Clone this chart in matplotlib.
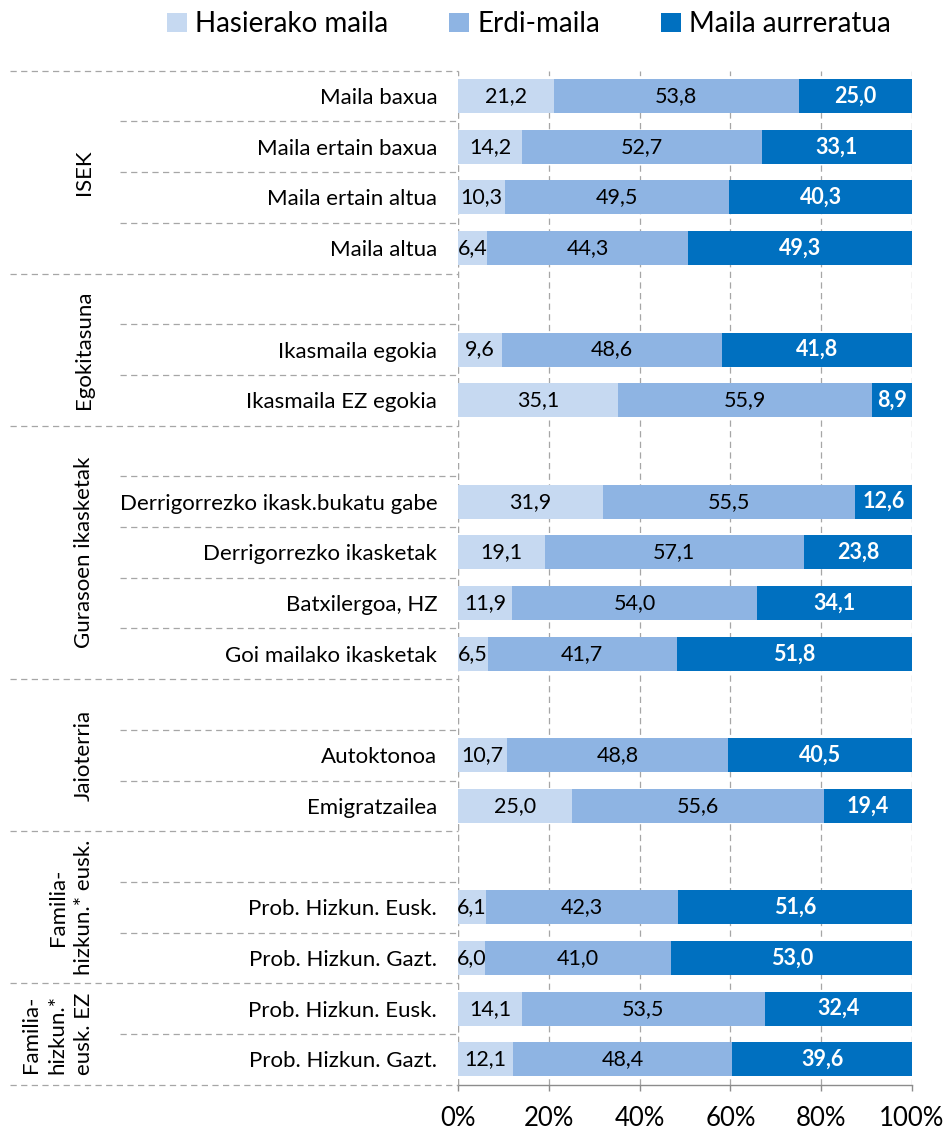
import numpy as np
import matplotlib
matplotlib.use("Agg")
import matplotlib.pyplot as plt
import matplotlib.transforms as mtransforms
from matplotlib.lines import Line2D
from matplotlib.patches import Patch

plt.rcParams['font.family'] = ['Lato', 'DejaVu Sans']

# ---------------- data ----------------
row_labels = ["Maila baxua", "Maila ertain baxua", "Maila ertain altua", "Maila altua",
              "", "Ikasmaila egokia", "Ikasmaila EZ egokia",
              "", "Derrigorrezko ikask.bukatu gabe", "Derrigorrezko ikasketak",
              "Batxilergoa, HZ", "Goi mailako ikasketak",
              "", "Autoktonoa", "Emigratzailea",
              "", "Prob. Hizkun. Eusk.", "Prob. Hizkun. Gazt.",
              "Prob. Hizkun. Eusk.", "Prob. Hizkun. Gazt."]
hasierako = [21.2, 14.2, 10.3, 6.4, np.nan, 9.6, 35.1, np.nan, 31.9, 19.1, 11.9, 6.5,
             np.nan, 10.7, 25.0, np.nan, 6.1, 6.0, 14.1, 12.1]
erdi = [53.8, 52.7, 49.5, 44.3, np.nan, 48.6, 55.9, np.nan, 55.5, 57.1, 54.0, 41.7,
        np.nan, 48.8, 55.6, np.nan, 42.3, 41.0, 53.5, 48.4]
aurreratua = [25.0, 33.1, 40.3, 49.3, np.nan, 41.8, 8.9, np.nan, 12.6, 23.8, 34.1, 51.8,
              np.nan, 40.5, 19.4, np.nan, 51.6, 53.0, 32.4, 39.6]
group_names = ["ISEK", "Egokitasuna", "Gurasoen ikasketak", "Jaioterria",
               "Familia-\nhizkun.* eusk.", "Familia-\nhizkun.*\neusk. EZ"]
group_bounds = [0, 4, 7, 12, 15, 18, 20]
series_names = ["Hasierako maila", "Erdi-maila", "Maila aurreratua"]
tick_values = [0, 20, 40, 60, 80, 100]

colors = ["#C6D9F1", "#8EB4E3", "#0070C0"]
text_colors = ["black", "black", "white"]
grid_color = "#A6A6A6"

# ---------------- figure ----------------
W, H = 943, 1129
fig = plt.figure(figsize=(W / 100, H / 100), dpi=100)
ax_l, ax_r, ax_t, ax_b = 458, 912, 70.7, 1084.7
ax = fig.add_axes([ax_l / W, 1 - ax_b / H, (ax_r - ax_l) / W, (ax_b - ax_t) / H])

n = len(row_labels)
ypos = np.arange(n) + 0.5
data = np.array([hasierako, erdi, aurreratua], dtype=float)
mask = ~np.isnan(data[0])
totals = np.nansum(data, axis=0)
norm = np.where(mask, data / np.where(totals == 0, 1, totals) * 100, np.nan)

left = np.zeros(n)
for k in range(3):
    w = norm[k]
    ax.barh(ypos[mask], w[mask], left=left[mask], height=0.67, color=colors[k],
            edgecolor='none', zorder=3, label=series_names[k])
    for i in np.where(mask)[0]:
        cx = left[i] + w[i] / 2
        ax.text(cx, ypos[i], f"{data[k][i]:.1f}".replace('.', ','), ha='center', va='center',
                color=text_colors[k], fontsize=15.5, fontweight='bold' if k == 2 else 'normal',
                zorder=4)
    left = left + np.nan_to_num(w)

ax.set_xlim(0, 100)
ax.set_ylim(n, 0)
ax.set_xticks(tick_values)
ax.set_xticklabels([f"{v}%" for v in tick_values], fontsize=18.5)
ax.set_yticks(ypos[mask])
ax.set_yticklabels([row_labels[i] for i in np.where(mask)[0]], fontsize=16)
ax.tick_params(axis='y', length=0, pad=15)
ax.tick_params(axis='x', length=4, width=1, color='#8C8C8C', pad=11, direction='out')

for s in ['top', 'right', 'left']:
    ax.spines[s].set_visible(False)
ax.spines['bottom'].set_color('#8C8C8C')
ax.spines['bottom'].set_linewidth(1)
ax.set_axisbelow(True)
ax.grid(axis='x', color=grid_color, linestyle=(0, (5, 3.5)), linewidth=0.9, zorder=0)
ax.grid(axis='y', visible=False)
ax.axvline(0, color=grid_color, linestyle=(0, (5, 3.5)), linewidth=0.9, zorder=0)

# label-area separators
trans = mtransforms.blended_transform_factory(fig.transFigure, ax.transData)
for b in range(n + 1):
    if b in group_bounds:
        x0 = 10 / W
    else:
        x0 = 120 / W
    fig.add_artist(Line2D([x0, ax_l / W], [b, b], transform=trans, color=grid_color,
                          linestyle=(0, (5, 3.5)), linewidth=0.9))

for g, name in enumerate(group_names):
    yc = (group_bounds[g] + group_bounds[g + 1]) / 2
    fig.text(94 / W, yc, name, transform=trans, rotation=90, ha='right', va='center',
             multialignment='center', fontsize=16, linespacing=1.4)

# legend
handles = [Patch(facecolor=c, edgecolor='none') for c in colors]
fig.legend(handles, series_names, loc='center', bbox_to_anchor=(529 / W, 1 - 24 / H),
           ncol=3, frameon=False, fontsize=20, handlelength=0.7, handleheight=0.7,
           handletextpad=0.3, columnspacing=2.2, borderaxespad=0)

fig.savefig("out.png", dpi=100)
